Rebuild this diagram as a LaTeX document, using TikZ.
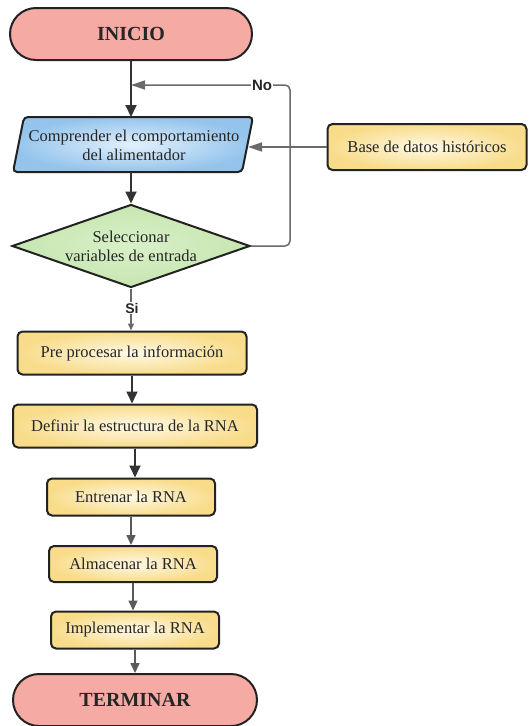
\documentclass[tikz,border=0pt]{standalone}
\usepackage{fontspec}
\setmainfont{Liberation Serif}
\newfontfamily\lblfont{Liberation Sans}
\usetikzlibrary{shapes.geometric,arrows.meta}
\definecolor{edgec}{HTML}{222222}
\definecolor{salmon}{HTML}{F6AAA4}
\definecolor{boxy}{HTML}{F8DC8A}
\definecolor{boxyin}{HTML}{FFF9E6}
\definecolor{bluo}{HTML}{94C4EC}
\definecolor{bluin}{HTML}{E2F0FC}
\definecolor{greenf}{HTML}{C6E6B0}
\definecolor{greenin}{HTML}{D9F0C8}
\definecolor{arrdark}{HTML}{333333}
\definecolor{arrgray}{HTML}{5A5A5A}
\definecolor{fbgray}{HTML}{6A6A6A}
\tikzset{
  bodyfont/.style={font=\fontsize{16.5}{19}\selectfont},
  termbox/.style={draw=edgec, line width=2pt, fill=salmon, rounded corners=26pt,
    font=\fontsize{20}{22}\selectfont\bfseries, text=black!85},
  procbox/.style={draw=edgec, line width=2pt, rounded corners=5pt,
    inner color=boxyin, outer color=boxy, bodyfont, text=black!85},
  decbox/.style={diamond, draw=edgec, line width=2pt, inner color=greenin, outer color=greenf,
    aspect=2.87, inner sep=0pt, bodyfont, align=center, text=black!85},
  bigarrow/.style={draw=arrdark, line width=1.8pt, -{Triangle[width=11pt,length=12pt]}},
  smallarrow/.style={draw=arrgray, line width=1.6pt, -{Triangle[width=9pt,length=10pt]}},
  fbarrow/.style={draw=fbgray, line width=1.5pt, -{Triangle[width=9pt,length=14pt]}},
  lbl/.style={fill=white, inner sep=1pt, font=\lblfont\fontsize{15}{16}\selectfont\bfseries, text=black!85}
}
\begin{document}
\begin{tikzpicture}[x=1pt,y=-1pt]
\useasboundingbox (0,0) rectangle (528,726);
% start
\node[termbox, minimum width=242pt, minimum height=52pt] (inicio) at (131,34) {INICIO};
% parallelogram
\path[draw=edgec, line width=2pt, rounded corners=4pt, inner color=bluin, outer color=bluo]
  (13,172) -- (24,117) -- (253,117) -- (242,172) -- cycle;
\node[bodyfont, align=center, text=black!85] (comp) at (134,145)
  {Comprender el comportamiento\\del alimentador};
\coordinate (compr) at (248,147);
\coordinate (compt) at (131,117);
\coordinate (compb) at (131,172);
% database
\node[procbox, minimum width=199pt, minimum height=46pt] (base) at (427,147) {Base de datos históricos};
% decision
\node[decbox, minimum width=238pt, minimum height=83pt] (sel) at (131,246)
  {Seleccionar\\variables de entrada};
% process boxes
\node[procbox, minimum width=229pt, minimum height=43pt] (pre) at (132,353) {Pre procesar la información};
\node[procbox, minimum width=244pt, minimum height=43pt] (def) at (135,426) {Definir la estructura de la RNA};
\node[procbox, minimum width=168pt, minimum height=37pt] (ent) at (131,497) {Entrenar la RNA};
\node[procbox, minimum width=168pt, minimum height=36pt] (alm) at (133,564) {Almacenar la RNA};
\node[procbox, minimum width=168pt, minimum height=37pt] (imp) at (135,630) {Implementar la RNA};
\node[termbox, minimum width=244pt, minimum height=52pt] (term) at (135,700) {TERMINAR};
% connectors
\draw[bigarrow] (inicio.south) -- (compt);
\draw[bigarrow] (compb) -- (sel.north);
\coordinate (join) at (131,85);
\coordinate (fbc1) at (290,246);
\coordinate (fbc2) at (290,85);
\draw[fbarrow, rounded corners=5pt] (sel.east) -- (fbc1) -- (fbc2) -- (join);
\node[lbl] (nolbl) at (262,85) {No};
\draw[fbarrow] (base.west) -- (compr);
\draw[draw=fbgray, line width=1.3pt, -{Triangle[width=6pt,length=7pt]}] (sel.south) -- (sel.south |- pre.north);
\node[lbl, font=\lblfont\fontsize{14}{15}\selectfont\bfseries] (silbl) at (132,308) {Si};
\draw[bigarrow] (pre.south) -- (pre.south |- def.north);
\draw[bigarrow] (def.south) -- (def.south |- ent.north);
\draw[smallarrow] (ent.south) -- (ent.south |- alm.north);
\draw[smallarrow] (alm.south) -- (alm.south |- imp.north);
\draw[smallarrow] (imp.south) -- (imp.south |- term.north);
\end{tikzpicture}
\end{document}
